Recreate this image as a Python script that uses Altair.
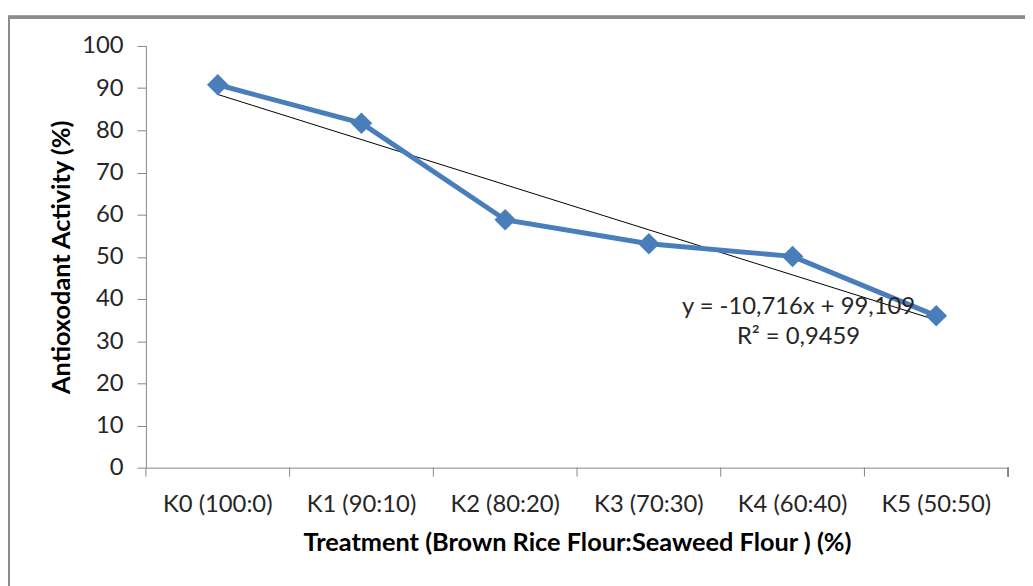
import json
import altair as alt
import pandas as pd

categories = ["K0 (100:0)", "K1 (90:10)", "K2 (80:20)", "K3 (70:30)", "K4 (60:40)", "K5 (50:50)"]
activity = [90.8, 81.7, 58.8, 53.1, 50.1, 36.0]
equation_lines = ["y = -10,716x + 99,109", "R\u00b2 = 0,9459"]
y_ticks = [0, 10, 20, 30, 40, 50, 60, 70, 80, 90, 100]

x_title = "Treatment (Brown Rice Flour:Seaweed Flour ) (%)"
y_title = "Antioxodant  Activity (%)"

df = pd.DataFrame({"cat": categories, "activity": activity, "idx": list(range(1, len(categories) + 1))})

FONT = "Lato"
BLUE = "#4A7EBB"
AX = "#868686"
W, H = 869, 425
TICK = 9

x_enc = alt.X(
    "cat:N",
    sort=categories,
    scale=alt.Scale(domain=categories, paddingInner=0, paddingOuter=0),
    axis=alt.Axis(
        title=x_title,
        labelAngle=0,
        labelAlign="center",
        labelBaseline="top",
        ticks=False,
        labelPadding=25,
        labelFontSize=24,
        labelFont=FONT,
        labelColor="#262626",
        titleFont=FONT,
        titleFontSize=25.5,
        titleFontWeight="bold",
        titleColor="#000000",
        titleBaseline="middle",
        titleY=75,
        domainColor=AX,
        grid=False,
    ),
)
y_enc = alt.Y(
    "activity:Q",
    scale=alt.Scale(domain=[0, 100], nice=False, zero=True),
    axis=alt.Axis(
        title=y_title,
        values=y_ticks,
        tickSize=TICK,
        labelPadding=14,
        labelFontSize=24,
        labelFont=FONT,
        labelColor="#262626",
        titleFont=FONT,
        titleFontSize=25.5,
        titleFontWeight="bold",
        titleColor="#000000",
        titleAngle=-90,
        titleAlign="center",
        titleBaseline="middle",
        titleX=-85,
        titleY=H / 2,
        domainColor=AX,
        tickColor=AX,
        grid=False,
    ),
)

base = alt.Chart(df)

# category-boundary tick marks (Excel style)
x_ticks = base.mark_rule(color=AX, strokeWidth=1).encode(
    x=alt.X("cat:N", sort=categories, bandPosition=0),
    y=alt.value(H),
    y2=alt.value(H + TICK),
)
x_tick_end = base.mark_rule(color=AX, strokeWidth=1).encode(
    x=alt.value(W), y=alt.value(H), y2=alt.value(H + TICK)
)

series = base.mark_line(
    color=BLUE, strokeWidth=5, point=alt.OverlayMarkDef(shape="diamond", size=470, color=BLUE, filled=True, opacity=1)
).encode(x=x_enc, y=y_enc)

trend = (
    base.transform_regression("idx", "activity", extent=[1, len(categories)])
    .transform_calculate(cat=f"{json.dumps(categories)}[round(datum.idx) - 1]")
    .mark_line(color="#000000", strokeWidth=1)
    .encode(x=alt.X("cat:N", sort=categories), y="activity:Q")
)

ann_df = pd.DataFrame({"cat": [categories[4]], "activity": [38.1], "label": ["\n".join(equation_lines)]})
annotation = (
    alt.Chart(ann_df)
    .mark_text(font=FONT, fontSize=24, color="#262626", align="center", baseline="middle", lineBreak="\n", lineHeight=30, dx=6)
    .encode(x=alt.X("cat:N", sort=categories), y="activity:Q", text="label:N")
)

border = alt.Chart(df).mark_rule(color="#8C8C8C", strokeWidth=3)
border_top = border.encode(x=alt.value(-139), x2=alt.value(900), y=alt.value(-29))
border_left = border.encode(x=alt.value(-139), y=alt.value(-29), y2=alt.value(560))

chart = (
    alt.layer(trend, series, x_ticks, x_tick_end, annotation, border_top, border_left)
    .properties(
        width=W,
        height=H,
        autosize=alt.AutoSizeParams(type="none"),
        padding={"left": 139, "top": 36, "right": 17, "bottom": 117},
        background="#FFFFFF",
    )
    .configure_view(stroke=None, clip=False)
)

chart.save("out.html", embed_options={"renderer": "svg", "actions": False})
